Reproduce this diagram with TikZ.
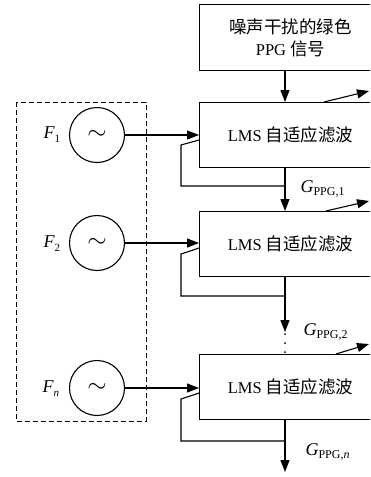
\documentclass[tikz,border=0pt]{standalone}
\usepackage{fontspec}
\setmainfont{Liberation Serif}
\newfontfamily\cjk{Noto Sans CJK SC}
\usetikzlibrary{arrows.meta,calc}
\newcommand\lmstext{{\fontsize{16.5}{20}\selectfont LMS {\cjk\fontsize{17.5}{20}\selectfont 自适应滤波}}}
\newcommand\glab[1]{{\fontsize{18}{18}\selectfont\textit{G}}\raisebox{-3pt}{\fontsize{12}{12}\selectfont PPG,#1}}
\newcommand\flab[1]{{\fontsize{18}{18}\selectfont\textit{F}}\raisebox{-4pt}{\fontsize{11}{11}\selectfont #1}}
\begin{document}
\begin{tikzpicture}[x=1pt,y=-1pt,line width=1.1pt,
  arr/.style={-{Triangle[length=12pt,width=9pt]}},
  box/.style={draw,rectangle,minimum width=182pt,minimum height=65pt,anchor=north west,inner sep=0pt,align=center},
  src/.style={draw,circle,minimum size=55pt,inner sep=0pt},
  lab/.style={inner sep=0pt,anchor=base west}]
\useasboundingbox (0,0) rectangle (370,477);
\clip (0,0) rectangle (370,477);
% dashed source frame
\draw[dash pattern=on 5pt off 3pt, line width=1pt] (16,102) rectangle (146,421);
% boxes
\node[box,minimum height=66pt] (top) at (199,4) {{\cjk\fontsize{17.5}{25}\selectfont 噪声干扰的绿色}\\[5pt]{\fontsize{16.5}{20}\selectfont PPG {\cjk\fontsize{17.5}{20}\selectfont 信号}}};
\node[box] (b1) at (199,102) {\lmstext};
\node[box] (b2) at (199,211) {\lmstext};
\node[box] (b3) at (199,354) {\lmstext};
% sources
\node[src] (s1) at (97,135) {\fontsize{30}{30}\selectfont$\sim$};
\node[src] (s2) at (97,243) {\fontsize{30}{30}\selectfont$\sim$};
\node[src] (s3) at (97,388) {\fontsize{30}{30}\selectfont$\sim$};
\node[lab] (f1) at (43,138) {\flab{1}};
\node[lab] (f2) at (43,247) {\flab{2}};
\node[lab] (f3) at (42,392) {\flab{\textit{n}}};
% inputs
\draw[arr] (s1.east) -- (s1.east -| b1.west);
\draw[arr] (s2.east) -- (s2.east -| b2.west);
\draw[arr] (s3.east) -- (s3.east -| b3.west);
% main vertical chain
\coordinate (ax) at (285,0);
\draw[arr] (top.south -| ax) -- (b1.north -| ax);
\draw[arr] (b1.south -| ax) -- (b2.north -| ax);
\coordinate (m2) at (285,332);
\draw[arr] (b2.south -| ax) -- (m2);
\fill (285,334) circle (1pt) (285,343) circle (1pt) (285,352) circle (1pt);
\coordinate (endn) at (285,472);
\draw[arr] (b3.south -| ax) -- (endn);
% feedback loops
\coordinate (fb1) at (285,186);
\coordinate (fb2) at (285,296);
\coordinate (fb3) at (285,441);
\draw (fb1) -| (181,145) -- (b1.west |- 0,140);
\draw (fb2) -| (181,254) -- (b2.west |- 0,248);
\draw (fb3) -| (181,399) -- (b3.west |- 0,393);
% outputs
\coordinate (o1) at (369,91);
\coordinate (o2) at (369,201);
\coordinate (o3) at (369,344);
\draw[arr] ($(b1.north west)+(125,0)$) -- (o1);
\draw[arr] ($(b2.north west)+(127,0)$) -- (o2);
\draw[arr] ($(b3.north west)+(137,0)$) -- (o3);
% G labels
\node[lab] (g1) at (300,192) {\glab{1}};
\node[lab] (g2) at (303,335) {\glab{2}};
\node[lab] (g3) at (305,455) {\glab{\textit{n}}};
\end{tikzpicture}
\end{document}
